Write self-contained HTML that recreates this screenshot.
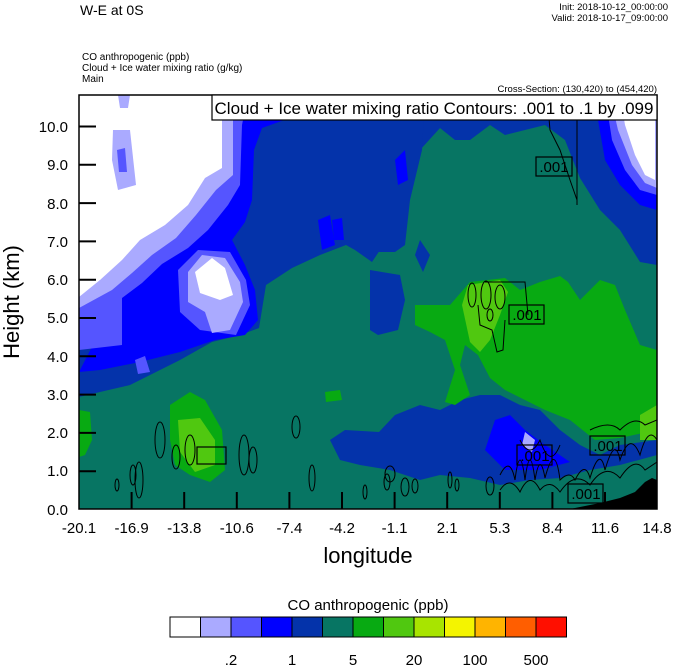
<!DOCTYPE html>
<html><head><meta charset="utf-8"><style>
body{margin:0;background:#fff;width:674px;height:667px;overflow:hidden;font-family:"Liberation Sans",sans-serif}
svg{display:block}
</style></head><body>
<svg width="674" height="667" xmlns="http://www.w3.org/2000/svg" font-family="Liberation Sans, sans-serif">
<defs><clipPath id="c"><rect x="79" y="95" width="578" height="414"/></clipPath></defs>
<g clip-path="url(#c)">
<rect x="79" y="95" width="578" height="414" fill="#077563"/>
<!-- upper dark blue -->
<polygon fill="#0433AA" points="79,95 657,95 657,265 640,262 620,230 600,210 580,178 565,140 545,125 525,130 505,135 490,125 470,140 455,140 440,128 420,150 405,135 395,160 382,135 375,200 380,250 372,262 355,250 346,245 320,255 292,268 266,285 259,328 240,335 212,342 180,360 130,385 100,392 79,397"/>
<polygon fill="#0433AA" points="370,95 425,95 422,150 410,200 405,245 395,252 370,252"/>
<polygon fill="#0433AA" points="370,270 400,275 405,300 398,330 378,335 370,330"/>
<polygon fill="#0433AA" points="420,240 430,255 423,272 415,255"/>
<polygon fill="#0433AA" points="330,440 345,430 379,432 395,415 420,405 440,410 460,400 480,395 500,395 520,405 540,410 560,430 580,445 600,455 620,445 657,440 657,455 620,465 590,470 560,478 530,480 500,485 470,478 440,475 420,480 390,470 360,465 340,460"/>
<polygon fill="#0000FF" points="495,420 510,415 525,430 545,445 570,462 540,470 505,470 485,450"/>
<polygon fill="#AAAAFF" points="525,432 535,440 532,452 522,445"/>
<!-- top right -->
<polygon fill="#0000FF" points="600,95 657,95 657,210 640,205 620,185 605,160 598,120"/>
<polygon fill="#5555FF" points="605,95 657,95 657,195 640,190 625,170 612,140"/>
<polygon fill="#AAAAFF" points="610,95 657,95 657,188 645,183 632,165 618,130"/>
<polygon fill="#fff" points="620,95 655,95 655,180 645,175 635,155 625,125"/>
<!-- upper-left bright blue -->
<polygon fill="#0000FF" points="222,95 330,95 318,108 290,118 262,128 254,150 252,200 245,222 232,240 245,265 255,290 258,320 245,335 215,340 180,352 140,362 100,370 79,372"/>
<polygon fill="#0000FF" points="318,220 330,215 335,245 322,250"/>
<polygon fill="#0000FF" points="332,220 342,218 344,240 334,240"/>
<polygon fill="#0000FF" points="395,160 405,150 408,180 398,185"/>
<!-- mid blue -->
<polygon fill="#5555FF" points="79,95 248,95 242,125 240,185 228,205 208,230 188,248 162,264 142,283 122,298 122,345 79,350"/>
<polygon fill="#5555FF" points="178,270 198,250 230,252 246,280 250,305 236,335 200,330 180,312"/>
<polygon fill="#5555FF" points="135,360 145,356 150,372 138,374"/>
<!-- light -->
<polygon fill="#AAAAFF" points="79,95 233,95 233,175 216,190 196,215 176,238 152,255 132,273 112,290 79,308"/>
<polygon fill="#AAAAFF" points="188,272 202,255 225,258 240,282 243,302 230,330 212,333 205,312 188,302"/>
<!-- white -->
<polygon fill="#fff" points="79,95 222,95 222,168 205,178 188,205 165,225 140,240 122,260 100,280 79,297"/>
<polygon fill="#fff" points="195,272 212,258 225,268 233,295 220,300 200,293"/>
<polygon fill="#AAAAFF" points="113,130 130,130 136,185 118,190 112,160"/>
<polygon fill="#5555FF" points="117,150 125,148 127,172 119,172"/>
<polygon fill="#AAAAFF" points="118,95 130,95 128,108 120,108"/>
<!-- greens -->
<polygon fill="#08AA12" points="170,405 190,392 205,400 222,430 225,470 210,482 190,475 175,465 170,440"/>
<polygon fill="#50C810" points="178,420 200,418 215,440 215,465 195,472 180,452"/>
<polygon fill="#08AA12" points="79,410 90,412 92,440 85,455 79,457"/>
<polygon fill="#08AA12" points="325,392 340,390 342,400 326,402"/>
<polygon fill="#08AA12" points="415,305 450,305 470,282 505,278 520,290 540,282 560,276 568,282 580,300 600,280 615,285 625,310 640,345 657,350 657,430 620,438 595,440 570,420 545,410 525,400 505,390 490,378 478,355 465,345 460,365 470,395 455,405 445,402 455,370 445,340 430,332 415,325"/>
<polygon fill="#50C810" points="468,285 500,280 508,292 500,315 490,340 480,352 470,342 462,305"/>
<polygon fill="#50C810" points="640,415 657,405 657,440 640,440"/>
<!-- terrain -->
<polygon fill="#000" points="570,509 600,503 620,498 635,492 645,482 652,478 657,480 657,509"/>
<!-- contours -->
<g fill="none" stroke="#000" stroke-width="1">
<path d="M547,95 L550,130 L560,150 L570,180 L577,200"/>
<path d="M577,95 L577,205"/>
<ellipse cx="472" cy="295" rx="4" ry="12"/><ellipse cx="486" cy="295" rx="5" ry="14"/><ellipse cx="500" cy="297" rx="5" ry="12"/><ellipse cx="490" cy="315" rx="3" ry="6"/>
<path d="M485,282 L525,282 L528,315 M505,320 L503,350 L497,352 L492,330 L480,325 L478,305"/>
<ellipse cx="296" cy="427" rx="4" ry="11"/>
<ellipse cx="160" cy="440" rx="5" ry="18"/><ellipse cx="176" cy="457" rx="4" ry="12"/><ellipse cx="190" cy="450" rx="5" ry="15"/><ellipse cx="244" cy="455" rx="5" ry="20"/><ellipse cx="253" cy="460" rx="4" ry="13"/>
<ellipse cx="133" cy="475" rx="3" ry="10"/><ellipse cx="139" cy="480" rx="4" ry="18"/><ellipse cx="117" cy="485" rx="2" ry="6"/>
<ellipse cx="312" cy="478" rx="3" ry="13"/><ellipse cx="365" cy="492" rx="2" ry="7"/><ellipse cx="387" cy="482" rx="3" ry="8"/>
<ellipse cx="390" cy="474" rx="5" ry="8"/><ellipse cx="405" cy="487" rx="4" ry="9"/><ellipse cx="415" cy="486" rx="3" ry="7"/><ellipse cx="450" cy="480" rx="2" ry="8"/><ellipse cx="457" cy="485" rx="2" ry="6"/><ellipse cx="490" cy="486" rx="4" ry="9"/>
<path d="M500,475 Q510,455 515,480 Q520,440 525,480 Q530,440 535,480 Q540,450 545,478 Q555,440 560,480 Q570,470 575,480 Q585,460 590,478 Q600,445 605,470 Q615,435 620,460 Q630,430 640,455 Q648,425 657,440"/>
<path d="M500,490 Q510,475 520,492 Q530,470 540,490 Q550,478 560,492 Q575,470 590,485 Q605,462 620,478 Q635,455 645,470 L657,462"/>
<path d="M520,440 Q530,460 540,440 Q550,470 560,445 M590,430 Q610,420 620,430 Q635,415 645,425 L657,420"/>
</g>
<g fill="none" stroke="#000" stroke-width="1.2">
<rect x="536" y="157" width="36" height="19"/>
<rect x="509" y="305" width="35" height="19"/>
<rect x="517" y="445" width="35" height="20"/>
<rect x="590" y="436" width="35" height="19"/>
<rect x="568" y="484" width="35" height="19"/>
<rect x="197" y="447" width="29" height="17"/>
</g>
<g font-size="15" fill="#000" text-anchor="middle">
<text x="554" y="172">.001</text><text x="527" y="320">.001</text><text x="535" y="461">.001</text><text x="608" y="451">.001</text><text x="586" y="499">.001</text>
</g>
</g>
<rect x="79" y="95" width="578" height="414" fill="none" stroke="#000" stroke-width="1.5"/>
<rect x="212" y="95" width="445" height="25" fill="#fff" stroke="#000" stroke-width="1.2"/>
<text x="434" y="114" font-size="17" text-anchor="middle">Cloud + Ice water mixing ratio Contours: .001 to .1 by .099</text>
<g stroke="#000" stroke-width="2">
<line x1="79" y1="126.5" x2="96" y2="126.5"/><line x1="79" y1="164.8" x2="96" y2="164.8"/><line x1="79" y1="203.1" x2="96" y2="203.1"/><line x1="79" y1="241.4" x2="96" y2="241.4"/><line x1="79" y1="279.7" x2="96" y2="279.7"/><line x1="79" y1="318" x2="96" y2="318"/><line x1="79" y1="356.3" x2="96" y2="356.3"/><line x1="79" y1="394.6" x2="96" y2="394.6"/><line x1="79" y1="432.9" x2="96" y2="432.9"/><line x1="79" y1="471.2" x2="96" y2="471.2"/>
<line x1="131.6" y1="509" x2="131.6" y2="492"/><line x1="184.2" y1="509" x2="184.2" y2="492"/><line x1="236.8" y1="509" x2="236.8" y2="492"/><line x1="289.4" y1="509" x2="289.4" y2="492"/><line x1="342" y1="509" x2="342" y2="492"/><line x1="394.6" y1="509" x2="394.6" y2="492"/><line x1="447.2" y1="509" x2="447.2" y2="492"/><line x1="499.8" y1="509" x2="499.8" y2="492"/><line x1="552.4" y1="509" x2="552.4" y2="492"/><line x1="605" y1="509" x2="605" y2="492"/>
</g>
<g font-size="15" text-anchor="end">
<text x="68" y="132">10.0</text><text x="68" y="170">9.0</text><text x="68" y="209">8.0</text><text x="68" y="247">7.0</text><text x="68" y="285">6.0</text><text x="68" y="323">5.0</text><text x="68" y="362">4.0</text><text x="68" y="400">3.0</text><text x="68" y="438">2.0</text><text x="68" y="476">1.0</text><text x="68" y="515">0.0</text>
</g>
<g font-size="15" text-anchor="middle">
<text x="79" y="533">-20.1</text><text x="131.6" y="533">-16.9</text><text x="184.2" y="533">-13.8</text><text x="236.8" y="533">-10.6</text><text x="289.4" y="533">-7.4</text><text x="342" y="533">-4.2</text><text x="394.6" y="533">-1.1</text><text x="447.2" y="533">2.1</text><text x="499.8" y="533">5.3</text><text x="552.4" y="533">8.4</text><text x="605" y="533">11.6</text><text x="657" y="533">14.8</text>
</g>
<text x="368" y="563" font-size="22" text-anchor="middle">longitude</text>
<text transform="translate(19,302) rotate(-90)" font-size="22" text-anchor="middle">Height (km)</text>
<text x="80" y="15" font-size="14">W-E at 0S</text>
<g font-size="9.5" text-anchor="end"><text x="668" y="10">Init: 2018-10-12_00:00:00</text><text x="668" y="21">Valid: 2018-10-17_09:00:00</text><text x="657" y="92">Cross-Section: (130,420) to (454,420)</text></g>
<g font-size="10"><text x="82" y="60">CO anthropogenic   (ppb)</text><text x="82" y="71">Cloud + Ice water mixing ratio   (g/kg)</text><text x="82" y="82">Main</text></g>
<text x="368" y="610" font-size="15" text-anchor="middle">CO anthropogenic  (ppb)</text>
<g stroke="#000" stroke-width="1">
<rect x="170" y="617" width="30.5" height="20" fill="#fff"/><rect x="200.5" y="617" width="30.5" height="20" fill="#AAAAFF"/><rect x="231" y="617" width="30.5" height="20" fill="#5555FF"/><rect x="261.5" y="617" width="30.5" height="20" fill="#0000FF"/><rect x="292" y="617" width="30.5" height="20" fill="#0433AA"/><rect x="322.5" y="617" width="30.5" height="20" fill="#077563"/><rect x="353" y="617" width="30.5" height="20" fill="#08AA12"/><rect x="383.5" y="617" width="30.5" height="20" fill="#50C810"/><rect x="414" y="617" width="30.5" height="20" fill="#A8E400"/><rect x="444.5" y="617" width="30.5" height="20" fill="#F4F400"/><rect x="475" y="617" width="30.5" height="20" fill="#FFB400"/><rect x="505.5" y="617" width="30.5" height="20" fill="#FF5E00"/><rect x="536" y="617" width="30.5" height="20" fill="#FF0F00"/>
</g>
<g font-size="15" text-anchor="middle">
<text x="231" y="665">.2</text><text x="292" y="665">1</text><text x="353" y="665">5</text><text x="414" y="665">20</text><text x="475" y="665">100</text><text x="536" y="665">500</text>
</g>
</svg>
</body></html>
